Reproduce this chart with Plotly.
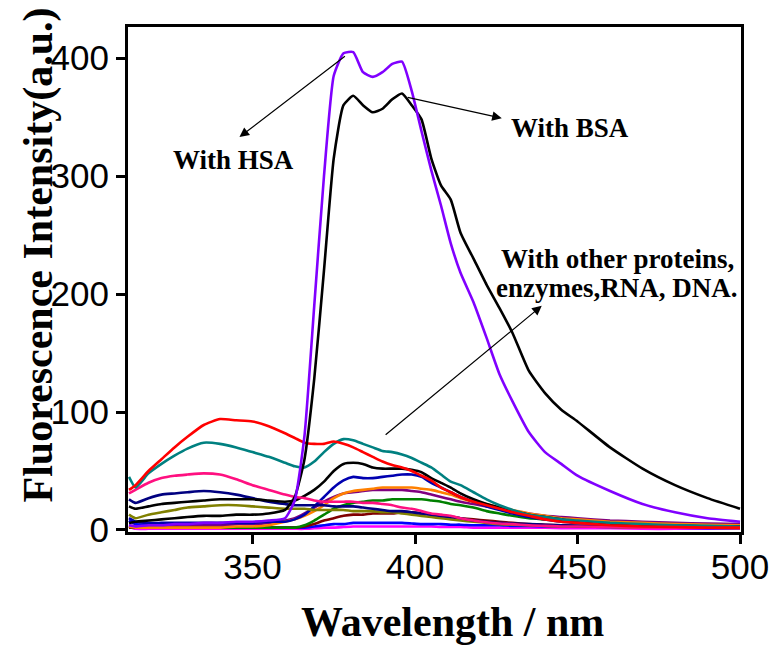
import plotly.graph_objects as go

wavelength = [312, 314, 318, 322, 326, 330, 335, 340, 345, 350, 355, 360, 363, 366, 369, 372, 375, 378,
              381, 384, 387, 390, 393, 396, 399, 402, 405, 408, 411, 414, 418, 422, 426, 430, 435, 440,
              445, 450, 460, 470, 480, 490, 500]

hsa = [4, 3, 4, 4, 5, 5, 6, 6, 7, 7, 8, 10, 25, 80, 190, 300, 385, 404,
       405, 388, 384, 388, 395, 397, 372, 338, 305, 275, 243, 218, 193, 163, 132, 109, 83, 66,
       56, 46, 33, 22, 15, 10, 7]
bsa = [6, 7, 8, 9, 10, 11, 12, 12, 13, 13, 14, 17, 28, 60, 128, 220, 315, 360,
       368, 360, 354, 357, 365, 370, 360, 348, 315, 292, 280, 252, 230, 208, 188, 167, 135, 116,
       102, 92, 70, 52, 38, 27, 18]
red = [34, 38, 50, 60, 70, 79, 89, 94, 93, 92, 88, 82, 78, 74, 73, 73, 75, 73,
       70, 66, 62, 58, 55, 53, 50, 46, 42, 36, 32, 28, 24, 21, 18, 15, 12, 9,
       7, 6, 4, 3, 2.5, 2, 2]
teal = [45, 36, 48, 56, 63, 69, 74, 73, 70, 66, 62, 57, 54, 53, 58, 66, 73, 77,
        76, 73, 70, 67, 66, 64, 61, 57, 53, 47, 41, 38, 32, 26, 21, 17, 13, 11,
        9, 8, 6, 5, 4, 3.5, 3]
pink = [31, 34, 40, 44, 46, 47, 48, 47, 43, 38, 34, 30, 28, 27, 25, 24, 24, 24,
        24, 23, 23, 22, 21, 19, 18, 16, 14, 13, 12, 10, 8, 6.5, 5.5, 5, 4, 3.5,
        3, 3, 2.5, 2, 2, 2, 1.5]
navy = [26, 23, 27, 30, 31, 32, 33, 32, 30, 27, 24, 22, 21, 21, 21, 21, 20, 20,
        20, 19, 18, 17, 16, 16, 15, 14, 13, 12, 11, 10, 8, 7, 6, 5.5, 5, 4.5,
        4, 3.5, 3, 3, 2.5, 2, 2]
black2 = [20, 18, 20, 22, 23, 24, 25, 26, 26, 26, 25, 24, 25, 29, 34, 41, 50, 56,
          57, 56, 53, 52, 52, 52, 51, 49, 44, 40, 36, 31, 26, 22, 19, 16, 13, 11,
          9, 7, 5, 4, 3.5, 3, 3]
olive = [13, 10, 13, 15, 17, 19, 20, 21, 21, 20, 19, 18, 18, 18, 17, 17, 17, 17,
         16, 16, 16, 15, 15, 14, 13, 12, 11, 10, 9, 8, 7, 6, 5, 4.5, 4, 3.5,
         3, 3, 2.5, 2, 2, 2, 1.5]
mblue = [10, 7, 6, 6, 6, 6, 6, 6, 6, 6, 7, 7, 9, 13, 20, 28, 36, 42,
         45, 44, 44, 45, 46, 47, 47, 45, 40, 36, 32, 28, 24, 20, 17, 14, 11, 9,
         7, 6, 5, 4, 3.5, 3, 3]
orange = [3, 2, 2, 2, 2, 2, 2, 2, 3, 3, 4, 7, 9, 12, 16, 21, 27, 31,
          33, 34, 35, 36, 36, 36, 36, 35, 34, 32, 30, 27, 24, 22, 19, 17, 14, 12,
          10, 9, 7, 6, 5, 4.5, 4]
purple2 = [4, 3, 3, 3, 4, 4, 4, 4, 5, 5, 6, 8, 10, 14, 19, 24, 28, 31,
           32, 33, 34, 34, 34, 34, 33, 32, 30, 28, 26, 24, 22, 20, 18, 16, 14, 12,
           11, 10, 8, 7, 6, 5.5, 5]
green = [3, 2, 2, 2, 2, 2, 2, 2, 2, 2, 2, 2, 2, 4, 8, 13, 18, 21,
         23, 24, 25, 25, 26, 26, 26, 26, 25, 24, 22, 21, 19, 16, 14, 12, 10, 9,
         8, 7, 5, 4, 3.5, 3, 3]
maroon = [2, 2, 2, 2, 2, 2, 2, 2, 2, 2, 2, 2, 2, 3, 5, 8, 10, 12,
          13, 13, 14, 14, 14, 15, 15, 14, 13, 12, 11, 10, 9, 8, 7, 6, 5, 4.5,
          4, 3.5, 3, 2.5, 2, 2, 2]
blue = [8, 5, 4, 3, 3, 3, 3, 3, 2, 2, 2, 2, 2, 2, 3, 4, 5, 5,
        6, 6, 6, 6, 6, 6, 5.5, 5, 5, 5, 4.5, 4.5, 4, 4, 4, 3.5, 3.5, 3,
        3, 3, 2.5, 2, 2, 1.5, 1.5]
magenta = [3, 1, 1, 1, 1, 1, 1, 1, 1, 1, 1, 1, 1, 1, 1.5, 2, 2, 2.5,
           3, 3, 3, 3, 3, 3, 3, 3, 3, 2.5, 2.5, 2.5, 2, 2, 2, 2, 2, 2,
           1.5, 1.5, 1.5, 1, 1, 1, 1]

series = [
    (magenta, "#FF00FF"), (blue, "#0000FF"), (maroon, "#800000"), (green, "#008000"),
    (purple2, "#800080"), (orange, "#FF8000"), (mblue, "#0000B0"), (olive, "#808000"),
    (navy, "#000080"), (black2, "#000000"), (pink, "#FF1080"), (teal, "#008080"),
    (red, "#FF0000"), (bsa, "#000000"), (hsa, "#8000FF"),
]

fig = go.Figure()
for vals, col in series:
    fig.add_trace(go.Scatter(x=wavelength, y=vals, mode="lines",
                             line=dict(color=col, width=2.6, shape="spline", smoothing=0.5),
                             showlegend=False, hoverinfo="skip"))

serif = "Liberation Serif, Times New Roman, serif"
sans = "Liberation Sans, Arial, sans-serif"

fig.update_layout(
    width=781, height=645,
    margin=dict(l=128, r=36, t=27, b=113),
    paper_bgcolor="white", plot_bgcolor="white",
    xaxis=dict(range=[311.7, 500.3], tickvals=[350, 400, 450, 500], showgrid=False, zeroline=False,
               showline=True, linecolor="black", linewidth=3, mirror=True,
               ticks="outside", ticklen=9, tickwidth=3, tickcolor="black",
               ticklabelstandoff=-7,
               tickfont=dict(family=sans, size=35, color="black")),
    yaxis=dict(range=[-1.7, 426.3], tickvals=[0, 100, 200, 300, 400], showgrid=False, zeroline=False,
               showline=True, linecolor="black", linewidth=3, mirror=True,
               ticks="outside", ticklen=9, tickwidth=3, tickcolor="black",
               tickfont=dict(family=sans, size=35, color="black")),
)

ann_font = dict(family=serif, size=27, color="black")
annotations = [
    # axis titles
    dict(text="<b>Wavelength / nm</b>", xref="paper", yref="paper", x=0.530, y=-0.178,
         xanchor="center", yanchor="middle",
         showarrow=False, font=dict(family=serif, size=42, color="black")),
    dict(text="<b>Fluorescence Intensity(a.u.)</b>", xref="paper", yref="paper", x=-0.146, y=0.5485,
         xanchor="center", yanchor="middle",
         showarrow=False, textangle=-90, font=dict(family=serif, size=42, color="black")),
    # labels
    dict(text="<b>With HSA</b>", x=344.2, y=314, showarrow=False, font=ann_font,
         xanchor="center", yanchor="middle"),
    dict(text="<b>With BSA</b>", x=447.6, y=341, showarrow=False, font=ann_font,
         xanchor="center", yanchor="middle"),
    dict(text="<b>With other proteins,</b>", x=462.3, y=230, showarrow=False, font=ann_font,
         xanchor="center", yanchor="middle"),
    dict(text="<b>enzymes,RNA, DNA.</b>", x=462.0, y=205, showarrow=False, font=ann_font,
         xanchor="center", yanchor="middle"),
    # arrows
    dict(x=346.0, y=333, ax=378.9, ay=402.5, axref="x", ayref="y", text="", showarrow=True,
         arrowhead=2, arrowsize=1.6, arrowwidth=1.2, arrowcolor="black"),
    dict(x=426.7, y=349, ax=397.3, ay=367, axref="x", ayref="y", text="", showarrow=True,
         arrowhead=2, arrowsize=1.6, arrowwidth=1.2, arrowcolor="black"),
    dict(x=439.0, y=190, ax=390.5, ay=79.7, axref="x", ayref="y", text="", showarrow=True,
         arrowhead=2, arrowsize=1.6, arrowwidth=1.2, arrowcolor="black"),
]
fig.update_layout(annotations=annotations)

fig.write_html("out.html")
